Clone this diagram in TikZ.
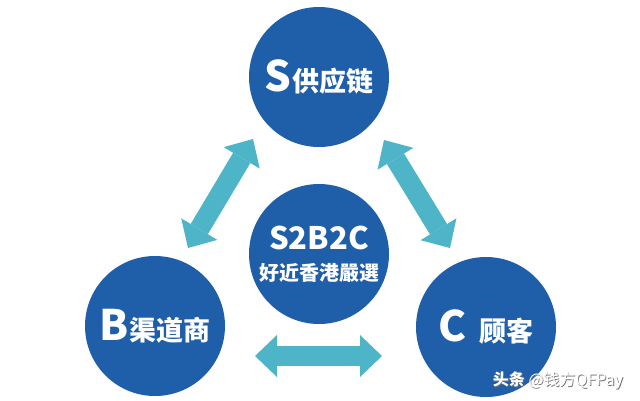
\documentclass[tikz,border=0pt]{standalone}
\usepackage{fontspec}
\setmainfont{Noto Sans CJK SC}
\usetikzlibrary{arrows.meta}
\definecolor{ballblue}{RGB}{31,94,168}
\definecolor{arrowteal}{RGB}{78,180,199}
\newcommand{\bigletter}[1]{{\fontsize{42}{42}\selectfont #1}}
\newcommand{\roletext}[1]{{\fontsize{27}{27}\selectfont #1}}
\tikzset{
  ball/.style={circle,fill=ballblue,minimum size=140pt,inner sep=0pt,outer sep=0pt,
    text=white,font=\bfseries},
  twoway/.style={arrowteal,line width=20pt,
    {Triangle[width=42pt,length=22pt,line width=0pt]}-{Triangle[width=42pt,length=22pt,line width=0pt]}},
}
\begin{document}
\begin{tikzpicture}[x=1pt,y=-1pt]
    \useasboundingbox[fill=white] (0,0) rectangle (640,400);
    \node[ball] (S) at (319,77) {\bigletter{S}\,\roletext{供应链}};
    \node[ball] (B) at (155,326) {\bigletter{B}\,\roletext{渠道商}};
    \node[ball] (C) at (486,327) {\bigletter{C}\hspace{12pt}\roletext{顾客}};
    \node[ball,align=center,font=\bfseries\fontsize{20}{31}\selectfont] (hub) at (319,254)
      {{\fontsize{31}{31}\selectfont S2B2C}\\好近香港嚴選};
    \coordinate (sbA) at (253,139);
    \coordinate (sbB) at (188,248);
    \coordinate (scA) at (384,140);
    \coordinate (scB) at (450,248);
    \coordinate (bcA) at (255,356);
    \coordinate (bcB) at (382,356);
    \draw[twoway] (sbA) -- (sbB);
    \draw[twoway] (scA) -- (scB);
    \draw[twoway] (bcA) -- (bcB);
    \node[text=black!55,font=\fontsize{16}{16}\selectfont] (wmshade) at (558.8,381.8)
      {\textbf{头条} @钱方QFPay};
    \node[text=white,font=\fontsize{16}{16}\selectfont] (wm) at (558,381)
      {\textbf{头条} @钱方QFPay};
\end{tikzpicture}
\end{document}
